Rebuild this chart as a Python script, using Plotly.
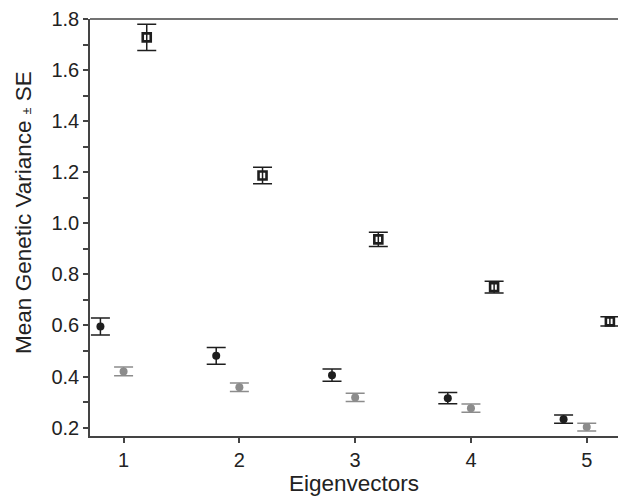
import plotly.graph_objects as go

eigenvectors = [1, 2, 3, 4, 5]
black_mean = [0.596, 0.481, 0.405, 0.315, 0.233]
black_se = [0.033, 0.033, 0.024, 0.022, 0.016]
gray_mean = [0.420, 0.358, 0.318, 0.276, 0.202]
gray_se = [0.017, 0.017, 0.016, 0.016, 0.015]
square_mean = [1.728, 1.187, 0.937, 0.750, 0.616]
square_se = [0.051, 0.032, 0.028, 0.023, 0.018]
offsets = [-0.2, 0.0, 0.2]

FONT = "Liberation Sans, Arial, sans-serif"
fig = go.Figure()

def add(means, ses, off, color, symbol, size, lw):
    fig.add_trace(go.Scatter(
        x=[e + off for e in eigenvectors], y=means, mode="markers",
        marker=dict(symbol=symbol, size=size, color=color, line=dict(width=lw, color=color)),
        error_y=dict(type="data", array=ses, visible=True, color=color, thickness=1.5, width=9.5),
        showlegend=False, cliponaxis=True,
    ))

add(black_mean, black_se, offsets[0], "#1e1e1e", "circle", 8, 0)
add(gray_mean, gray_se, offsets[1], "#8c8c8c", "circle", 8, 0)
add(square_mean, square_se, offsets[2], "#1e1e1e", "square-open", 8, 2.6)

axis_common = dict(showgrid=False, zeroline=False, showline=True, linecolor="#444444",
                   linewidth=1.5, ticks="outside", ticklen=5, tickwidth=1.5, tickcolor="#444444",
                   tickfont=dict(family=FONT, size=20, color="#222222"))

fig.update_xaxes(range=[0.71, 5.27], tickvals=eigenvectors, ticktext=[str(e) for e in eigenvectors],
                 title=dict(text="Eigenvectors", font=dict(family=FONT, size=22.5, color="#222222"), standoff=4),
                 **axis_common)
fig.update_yaxes(range=[0.167, 1.8], tickvals=[0.2, 0.4, 0.6, 0.8, 1.0, 1.2, 1.4, 1.6, 1.8],
                 tickformat=".1f",
                 minor=dict(ticks="outside", ticklen=5, tickwidth=1.5, tickcolor="#444444", dtick=0.1, tick0=0.1, showgrid=False),
                 **axis_common)

fig.add_annotation(text="Mean Genetic Variance <span style='font-size:12px'>±</span> SE",
                   textangle=-90, xref="paper", yref="paper", x=-0.125, y=0.535,
                   xanchor="center", yanchor="middle", showarrow=False,
                   font=dict(family=FONT, size=22.5, color="#222222"))

fig.add_shape(type="line", xref="paper", yref="paper", x0=0, x1=1, y0=1, y1=1,
              line=dict(color="#444444", width=1.5))

fig.update_layout(width=618, height=499, margin=dict(l=90, r=0, t=19, b=63),
                  plot_bgcolor="white", paper_bgcolor="white")

fig.write_html("out.html", config={"displayModeBar": False},
               post_script="document.body.style.margin='0';document.body.style.overflow='hidden';")
